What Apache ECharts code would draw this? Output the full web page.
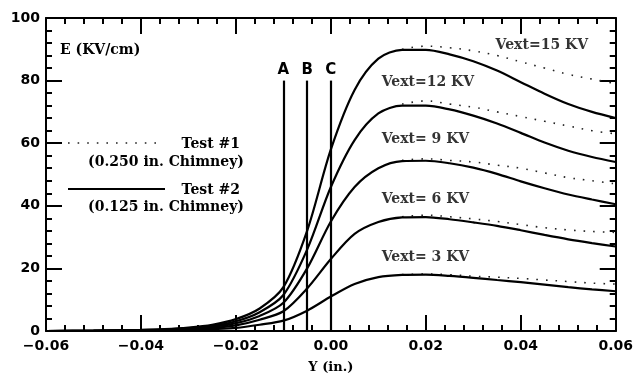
<!DOCTYPE html>
<html><head><meta charset="utf-8">
<script src="https://cdn.jsdelivr.net/npm/echarts@6/dist/echarts.min.js"></script>
<style>html,body{margin:0;padding:0;background:#fff}#c{width:636px;height:379px}</style>
</head><body><div id="c"></div>
<script>
// ---- data ----
var xSolid = [-0.06,-0.05,-0.04,-0.035,-0.03,-0.025,-0.02,-0.015,-0.01,-0.005,0,0.005,0.01,0.015,0.02,0.025,0.03,0.035,0.04,0.045,0.05,0.055,0.06];
var solid15 = [0,0.1,0.35,0.6,1.1,2,3.8,7.2,14,32,58,77,87,89.8,89.8,88.4,86.2,83.2,79.5,75.8,72.5,70,68];
var solid12 = [0,0.08,0.3,0.5,0.9,1.6,3.1,6,11.5,26,46,61,69.5,72,72,70.8,68.8,66.3,63.3,60.2,57.6,55.6,54];
var solid9  = [0,0.06,0.2,0.35,0.7,1.3,2.5,4.8,9,20,35,46,52,54.3,54.4,53.6,52.2,50.2,47.8,45.6,43.6,42,40.5];
var solid6  = [0,0.04,0.15,0.25,0.5,1,1.8,3.6,6.3,13.6,23,31,34.8,36.3,36.4,35.7,34.7,33.6,32.2,30.7,29.3,28.1,27];
var solid3  = [0,0.02,0.1,0.15,0.3,0.6,1,2,3.3,6.5,11,15,17.2,17.9,18,17.6,17,16.3,15.6,14.8,14,13.3,12.7];

var xDotted = [0.015,0.02,0.025,0.03,0.035,0.04,0.045,0.05,0.055,0.06];
var dotted15 = [90,91,90.5,89.5,88,86,84,82,80.5,79];
var dotted12 = [72.5,73.5,72.5,71.5,70,68.5,67,65.5,64,63];
var dotted9  = [54.5,55,54.5,54,53,52,50.5,49,48,47];
var dotted6  = [36.5,37,36.5,35.8,35,34,33,32.3,31.8,31.5];
var dotted3  = [18,18.2,18,17.5,17.2,16.8,16.3,15.8,15.3,15];

var markerNames = ['A','B','C'];
var markerX = [-0.01,-0.005,0];
var markerTop = 80;

var curveLabels = ['Vext=15 KV','Vext=12 KV','Vext= 9 KV','Vext= 6 KV','Vext= 3 KV'];
var curveLabelX = [0.0347,0.0107,0.0107,0.0107,0.0107];
var curveLabelY = [91.4,79.4,61.3,42.2,23.5];

var xTicks = [-0.06,-0.04,-0.02,0,0.02,0.04,0.06];
var yTicks = [0,20,40,60,80,100];
// ---------------

function pairs(xs, ys){ return xs.map(function(x,i){ return [x, ys[i]]; }); }

var serifFont = '"DejaVu Serif", "Liberation Serif", serif';
var sansFont = '"DejaVu Sans", "Liberation Sans", sans-serif';

var solidSets = [solid15, solid12, solid9, solid6, solid3];
var dottedSets = [dotted15, dotted12, dotted9, dotted6, dotted3];

var series = [];
dottedSets.forEach(function(d){
  series.push({type:'line', data: pairs(xDotted, d), smooth:0.4, symbol:'none', silent:true,
    lineStyle:{color:'#222', width:1.6, type:[1.6,8]}, z:2});
});
solidSets.forEach(function(d){
  series.push({type:'line', data: pairs(xSolid, d), smooth:0.3, symbol:'none', silent:true,
    lineStyle:{color:'#000', width:2.2}, z:3});
});
series.push({type:'line', data:[], symbol:'none', silent:true,
  markLine:{symbol:'none', silent:true, animation:false,
    lineStyle:{type:'solid', width:2.2, color:'#000'},
    label:{show:true, position:'end', distance:3, color:'#000', fontFamily:sansFont, fontWeight:'bold', fontSize:15},
    data: markerX.map(function(x,i){
      return [{coord:[x,0], label:{formatter: markerNames[i]}}, {coord:[x,markerTop], label:{formatter: markerNames[i]}}];
    })
  }});
series.push({type:'scatter', symbolSize:0, silent:true, z:5,
  data: curveLabels.map(function(t,i){ return {name:t, value:[curveLabelX[i], curveLabelY[i]]}; }),
  label:{show:true, position:'right', distance:0, formatter:'{b}', color:'#000',
    fontFamily:serifFont, fontWeight:'bold', fontSize:14}
});

function fmtX(v){
  var s = Math.abs(v) < 1e-9 ? '0.00' : v.toFixed(2);
  return s.replace('-', '\u2212');
}

function axisCommon(){
  return {
    axisLine:{show:true, onZero:false, lineStyle:{color:'#000', width:2}},
    axisTick:{show:true, inside:true, length:16, lineStyle:{color:'#000', width:2}},
    minorTick:{show:true, splitNumber:5, length:6, lineStyle:{color:'#000', width:2}},
    splitLine:{show:false}
  };
}

var option = {
  animation:false,
  backgroundColor:'#fff',
  grid:{left:46, right:18, top:18, bottom:46, containLabel:false},
  xAxis:[
    Object.assign({type:'value', min:-0.06, max:0.06, interval:0.02, position:'bottom',
      name:'Y (in.)', nameLocation:'middle', nameGap:30,
      nameTextStyle:{color:'#000', fontFamily:serifFont, fontWeight:'bold', fontSize:13},
      axisLabel:{color:'#000', fontFamily:sansFont, fontWeight:'bold', fontSize:14, margin:8,
        formatter:fmtX, customValues: xTicks}}, axisCommon()),
    Object.assign({type:'value', min:-0.06, max:0.06, interval:0.02, position:'top',
      axisLabel:{show:false}}, axisCommon())
  ],
  yAxis:[
    Object.assign({type:'value', min:0, max:100, interval:20, position:'left',
      axisLabel:{color:'#000', fontFamily:sansFont, fontWeight:'bold', fontSize:14, margin:6,
        customValues: yTicks}}, axisCommon()),
    Object.assign({type:'value', min:0, max:100, interval:20, position:'right',
      axisLabel:{show:false}}, axisCommon())
  ],
  graphic:[
    {type:'text', left:60, top:43, style:{text:'E (KV/cm)', fill:'#000', font:'bold 14px '+serifFont}},
    {type:'line', shape:{x1:68,y1:143,x2:160,y2:143}, style:{stroke:'#222', lineWidth:1.6, lineDash:[1.6,8]}},
    {type:'text', x:240, y:144, style:{text:'Test #1', fill:'#000', font:'bold 14px '+serifFont, align:'right', verticalAlign:'middle'}},
    {type:'text', x:166, y:162, style:{text:'(0.250 in. Chimney)', fill:'#000', font:'bold 14px '+serifFont, align:'center', verticalAlign:'middle'}},
    {type:'line', shape:{x1:68,y1:189,x2:165,y2:189}, style:{stroke:'#000', lineWidth:2.2}},
    {type:'text', x:240, y:190, style:{text:'Test #2', fill:'#000', font:'bold 14px '+serifFont, align:'right', verticalAlign:'middle'}},
    {type:'text', x:166, y:207, style:{text:'(0.125 in. Chimney)', fill:'#000', font:'bold 14px '+serifFont, align:'center', verticalAlign:'middle'}}
  ],
  series: series
};

var chart = echarts.init(document.getElementById('c'), null, {renderer:'canvas'});
chart.setOption(option);
</script>
</body></html>
